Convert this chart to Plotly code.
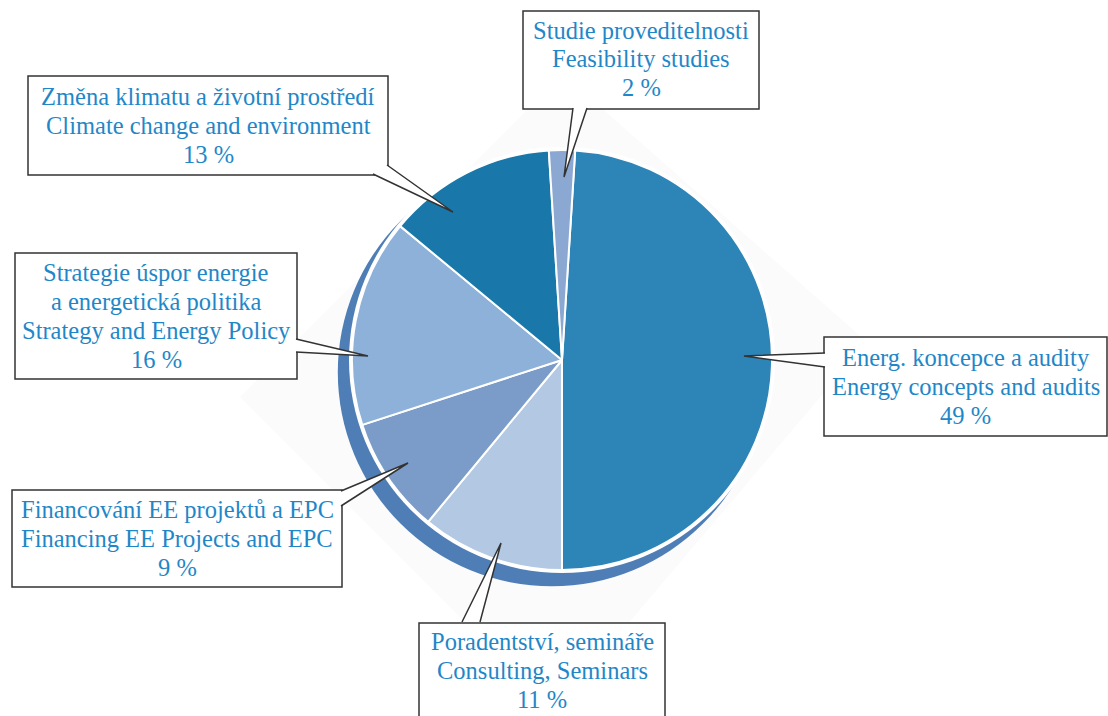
import plotly.graph_objects as go

W, H = 1108, 716

# Slice data (clockwise from just right of 12 o'clock)
labels_cz = ["Energ. koncepce a audity", "Poradentství, semináře",
             "Financování EE projektů a EPC", "Strategie úspor energie<br>a energetická politika",
             "Změna klimatu a životní prostředí", "Studie proveditelnosti"]
labels_en = ["Energy concepts and audits", "Consulting, Seminars",
             "Financing EE Projects and EPC", "Strategy and Energy Policy",
             "Climate change and environment", "Feasibility studies"]
shares = [49, 11, 9, 16, 13, 2]
slice_colors = ["#2c84b7", "#b2c8e3", "#7b9cc9", "#8eb1d9", "#1978a9", "#8ba8d2"]

TEXT_BLUE = "#1f87c8"
BORDER = "#333333"
FONT = "Liberation Serif"
FS = 24.5

def px(x):
    return x / W

def py(y):
    return 1 - y / H

# pie geometry in pixels
CX, CY, R = 562, 360, 210

fig = go.Figure()
fig.add_trace(go.Pie(
    values=shares,
    labels=labels_en,
    sort=False,
    direction="clockwise",
    rotation=3.6,
    marker=dict(colors=slice_colors, line=dict(color="white", width=2)),
    textinfo="none",
    hoverinfo="label+percent",
    domain=dict(x=[px(CX - R), px(CX + R)], y=[py(CY + R), py(CY - R)]),
    showlegend=False,
))

shapes = []
# faint backdrop diamond
diamond = [(563, 74), (867, 342), (554, 711), (240, 397)]
path = "M " + " L ".join(f"{px(x)},{py(y)}" for x, y in diamond) + " Z"
shapes.append(dict(type="path", path=path, xref="paper", yref="paper",
                   fillcolor="#fbfbfc", line=dict(width=0), layer="below"))
# drop shadow crescent
SX, SY, SR = 551.8, 372.3, 214
shapes.append(dict(type="circle", xref="paper", yref="paper",
                   x0=px(SX - SR), x1=px(SX + SR), y0=py(SY + SR), y1=py(SY - SR),
                   fillcolor="#4e7eb5", line=dict(width=0), layer="below"))
WR = 213
shapes.append(dict(type="circle", xref="paper", yref="paper",
                   x0=px(CX - WR), x1=px(CX + WR), y0=py(CY + WR), y1=py(CY - WR),
                   fillcolor="white", line=dict(width=0), layer="below"))

# callout boxes: (x0, y0, x1, y1), line centres, tail (base1, tip, base2)
callouts = [
    dict(box=(824, 337, 1107, 436), lines_y=[357.5, 386.5, 415.5],
         tail=[(825, 353), (744, 356), (825, 367)]),
    dict(box=(419, 623, 665, 722), lines_y=[641, 670, 699],
         tail=[(462, 622), (501, 543), (480, 622)]),
    dict(box=(12, 490, 342, 587), lines_y=[509.5, 538.5, 567.5],
         tail=[(341, 491), (408, 463), (341, 506)]),
    dict(box=(15, 253, 297, 379), lines_y=[272.5, 301.5, 330.5, 359.5],
         tail=[(296, 339), (368, 356), (296, 352)]),
    dict(box=(28, 76, 388, 175), lines_y=[96.5, 125.5, 154.5],
         tail=[(387, 165), (453, 212), (373, 174)]),
    dict(box=(523, 11, 759, 109), lines_y=[30, 59, 88],
         tail=[(573, 108), (564, 177), (587, 108)]),
]

annotations = []
for i, c in enumerate(callouts):
    x0, y0, x1, y1 = c["box"]
    shapes.append(dict(type="rect", xref="paper", yref="paper",
                       x0=px(x0), x1=px(x1), y0=py(y1), y1=py(y0),
                       fillcolor="white", line=dict(color=BORDER, width=1.5)))
    (bx1, by1), (tx, ty), (bx2, by2) = c["tail"]
    tpath = f"M {px(bx1)},{py(by1)} L {px(tx)},{py(ty)} L {px(bx2)},{py(by2)}"
    shapes.append(dict(type="path", path=tpath, xref="paper", yref="paper",
                       fillcolor="white", line=dict(color=BORDER, width=1.5)))
    lines = labels_cz[i].split("<br>") + [labels_en[i], f"{shares[i]} %"]
    xc = (x0 + x1) / 2
    for txt, ly in zip(lines, c["lines_y"]):
        annotations.append(dict(x=px(xc), y=py(ly), xref="paper", yref="paper",
                                text=txt, showarrow=False, xanchor="center",
                                yanchor="middle",
                                font=dict(family=FONT, size=FS, color=TEXT_BLUE)))

fig.update_layout(
    width=W, height=H,
    margin=dict(l=0, r=0, t=0, b=0),
    paper_bgcolor="white",
    plot_bgcolor="white",
    shapes=shapes,
    annotations=annotations,
    showlegend=False,
)

fig.write_html("out.html")
